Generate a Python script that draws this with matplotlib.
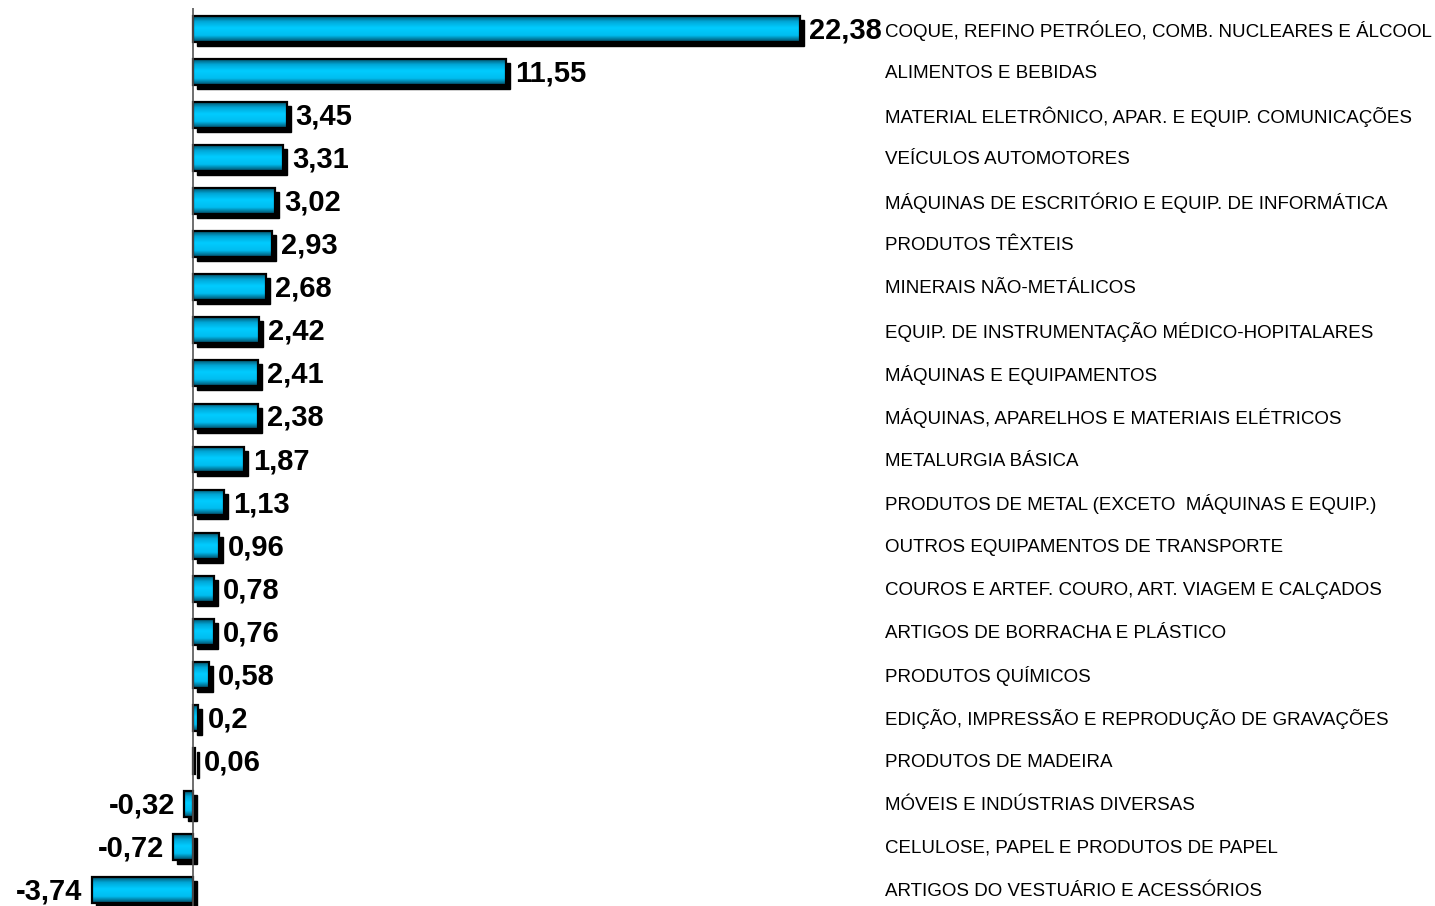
import numpy as np
import matplotlib
matplotlib.use('Agg')
import matplotlib.pyplot as plt
import matplotlib.transforms as mtransforms
from matplotlib.patches import Rectangle
from matplotlib.colors import LinearSegmentedColormap

plt.rcParams['font.family'] = ['Liberation Sans', 'DejaVu Sans']

# data, top to bottom
categories = [
    'COQUE, REFINO PETRÓLEO, COMB. NUCLEARES E ÁLCOOL',
    'ALIMENTOS E BEBIDAS',
    'MATERIAL ELETRÔNICO, APAR. E EQUIP. COMUNICAÇÕES',
    'VEÍCULOS AUTOMOTORES',
    'MÁQUINAS DE ESCRITÓRIO E EQUIP. DE INFORMÁTICA',
    'PRODUTOS TÊXTEIS',
    'MINERAIS NÃO-METÁLICOS',
    'EQUIP. DE INSTRUMENTAÇÃO MÉDICO-HOPITALARES',
    'MÁQUINAS E EQUIPAMENTOS',
    'MÁQUINAS, APARELHOS E MATERIAIS ELÉTRICOS',
    'METALURGIA BÁSICA',
    'PRODUTOS DE METAL (EXCETO  MÁQUINAS E EQUIP.)',
    'OUTROS EQUIPAMENTOS DE TRANSPORTE',
    'COUROS E ARTEF. COURO, ART. VIAGEM E CALÇADOS',
    'ARTIGOS DE BORRACHA E PLÁSTICO',
    'PRODUTOS QUÍMICOS',
    'EDIÇÃO, IMPRESSÃO E REPRODUÇÃO DE GRAVAÇÕES',
    'PRODUTOS DE MADEIRA',
    'MÓVEIS E INDÚSTRIAS DIVERSAS',
    'CELULOSE, PAPEL E PRODUTOS DE PAPEL',
    'ARTIGOS DO VESTUÁRIO E ACESSÓRIOS',
]
values = [22.38, 11.55, 3.45, 3.31, 3.02, 2.93, 2.68, 2.42, 2.41, 2.38,
          1.87, 1.13, 0.96, 0.78, 0.76, 0.58, 0.2, 0.06, -0.32, -0.72, -3.74]

fig = plt.figure(figsize=(14.35, 9.06), dpi=100)
ax = fig.add_axes([0, 0, 1, 1])
ax.axis('off')

# vertical gradient for the bars: dark edges, bright cyan body
cmap = LinearSegmentedColormap.from_list(
    'bar', [(0.0, '#04566f'), (0.2, '#00a6d6'), (0.45, '#00ccff'),
            (0.75, '#00bdf0'), (1.0, '#024a63')])
grad = np.linspace(0, 1, 64).reshape(-1, 1)

bar_h = 0.6
shadow = mtransforms.offset_copy(ax.transData, fig=fig, x=4, y=-4, units='dots')
txt_pos = mtransforms.offset_copy(ax.transData, fig=fig, x=9, y=-1.5, units='dots')
txt_neg = mtransforms.offset_copy(ax.transData, fig=fig, x=-9, y=-1.5, units='dots')
txt_cat = mtransforms.offset_copy(ax.transData, fig=fig, x=0, y=-1.5, units='dots')

for i, (cat, v) in enumerate(zip(categories, values)):
    x0 = min(0, v)
    w = abs(v)
    ax.add_patch(Rectangle((x0, i - bar_h / 2), w, bar_h, facecolor='black',
                           edgecolor='black', lw=1, transform=shadow, zorder=1))
    ax.imshow(grad, cmap=cmap, aspect='auto', interpolation='bilinear',
              extent=(x0, x0 + w, i + bar_h / 2, i - bar_h / 2), zorder=2)
    ax.add_patch(Rectangle((x0, i - bar_h / 2), w, bar_h, facecolor='none',
                           edgecolor='black', lw=1.6, zorder=3))
    label = str(v).replace('.', ',')
    if v >= 0:
        ax.text(v, i, label, transform=txt_pos, ha='left', va='center',
                fontsize=21, fontweight='bold', zorder=5)
    else:
        ax.text(v, i, label, transform=txt_neg, ha='right', va='center',
                fontsize=21, fontweight='bold', zorder=5)
    ax.text(25.5, i, cat, transform=txt_cat, ha='left', va='center',
            fontsize=13.5, zorder=5)

ax.vlines(0, -0.49, 21, color='#555555', lw=1.2, zorder=4)

ax.set_xlim(-193 / 27.12, (1435 - 193) / 27.12)
ax.set_ylim((906 - 29) / 43.05, -29 / 43.05)

fig.savefig('out.png', dpi=100)
